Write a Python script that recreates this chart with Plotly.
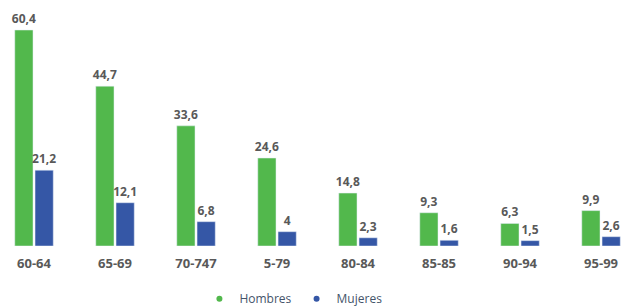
import plotly.graph_objects as go

categorias = ["60-64", "65-69", "70-747", "5-79", "80-84", "85-85", "90-94", "95-99"]
hombres = [60.4, 44.7, 33.6, 24.6, 14.8, 9.3, 6.3, 9.9]
mujeres = [21.2, 12.1, 6.8, 4, 2.3, 1.6, 1.5, 2.6]

VERDE = "#52B84C"
AZUL = "#3557A6"
FONT = "Open Sans"

fig = go.Figure()
for name, vals, col in [("Hombres", hombres, VERDE), ("Mujeres", mujeres, AZUL)]:
    fig.add_trace(go.Bar(
        x=categorias, y=vals, name=name, marker_color=col, showlegend=False,
        texttemplate="%{y}", textposition="outside", cliponaxis=False,
        constraintext="none",
        textfont=dict(family=FONT, size=12, color="#595959", weight="bold"),
    ))
for name, col in [("Hombres", VERDE), ("Mujeres", AZUL)]:
    fig.add_trace(go.Scatter(
        x=[None], y=[None], mode="markers", name=name,
        marker=dict(color=col, size=6, symbol="circle"),
    ))

fig.update_layout(
    width=631, height=308,
    margin=dict(l=0, r=0, t=10, b=62),
    paper_bgcolor="white", plot_bgcolor="white",
    separators=",.",
    barmode="group", bargap=0.5, bargroupgap=0.1,
    font=dict(family=FONT),
    legend=dict(orientation="h", x=0.465, xanchor="center",
                yref="container", y=0.03, yanchor="middle",
                font=dict(family=FONT, size=12, color="#44546A"),
                itemwidth=30, tracegroupgap=0),
    xaxis=dict(range=[-0.42, 7.37], showgrid=False, zeroline=False, showline=False,
               ticks="", ticklabelstandoff=8,
               tickfont=dict(family=FONT, size=13, color="#595959", weight="bold")),
    yaxis=dict(range=[0, 66], visible=False),
)
fig.write_html("out.html", config={"displayModeBar": False},
               post_script="document.body.style.margin='0';")
